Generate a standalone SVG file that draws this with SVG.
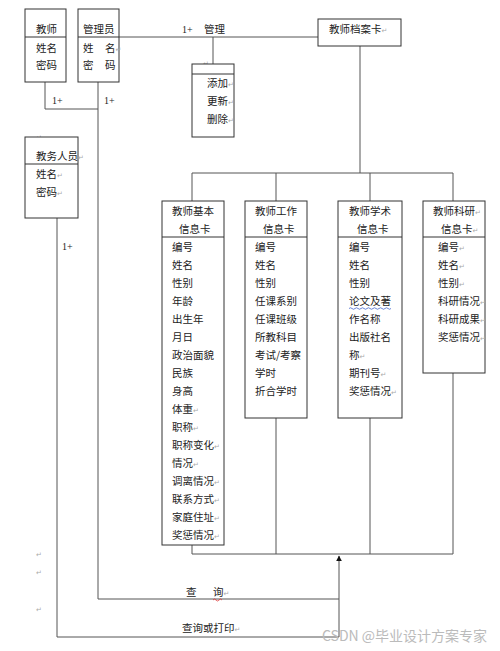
<svg xmlns="http://www.w3.org/2000/svg" width="500" height="651" viewBox="0 0 500 651">
<style>
.box{fill:#fff;stroke:#333;stroke-width:1}
.ln{fill:none;stroke:#555;stroke-width:1}
.t{font-family:"Noto Sans CJK SC","Noto Sans CJK JP",sans-serif;font-size:10.5px;fill:#222}
.n{font-family:"Liberation Serif",serif;font-size:10px;fill:#222}
.p{font-family:"DejaVu Sans",sans-serif;font-size:7px;fill:#aaa}
.w{font-family:"Noto Sans CJK SC",sans-serif;font-size:14px;fill:#bbb}
</style>
<defs>
<marker id="ar" viewBox="0 0 10 10" refX="9" refY="5" markerWidth="6" markerHeight="7" orient="auto" markerUnits="userSpaceOnUse">
<path d="M0,0 L10,5 L0,10 Z" fill="#111"/>
</marker>
</defs>
<g id="connectors">
<polyline class="ln" points="45,82 45,109 98,109"/>
<line class="ln" x1="98" y1="82" x2="98" y2="599"/>
<line class="ln" x1="119" y1="37" x2="318" y2="37"/>
<line class="ln" x1="213" y1="37" x2="213" y2="64"/>
<line class="ln" x1="360" y1="46" x2="360" y2="173"/>
<polyline class="ln" points="192,201 192,173 453,173 453,201"/>
<line class="ln" x1="276" y1="173" x2="276" y2="201"/>
<line class="ln" x1="370" y1="173" x2="370" y2="201"/>
<polyline class="ln" points="192,545 192,554 453,554 453,373"/>
<line class="ln" x1="276" y1="418" x2="276" y2="554"/>
<line class="ln" x1="370" y1="418" x2="370" y2="554"/>
<polyline class="ln" points="57,218 57,637 339,637"/>
<line class="ln" x1="98" y1="599" x2="339" y2="599"/>
<line class="ln" x1="339" y1="637" x2="339" y2="556" marker-end="url(#ar)"/>
<text class="n" x="52" y="104">1+</text>
<text class="n" x="104" y="104">1+</text>
<text class="n" x="182" y="33">1+</text>
<text class="t" x="204" y="33">管理</text>
<text class="n" x="62" y="250">1+</text>
<text class="t" x="186" y="596">查</text>
<text class="t" x="213" y="596">询<tspan class="p">↵</tspan></text>
<path d="M213,600 q1.5,-2 3,0 t3,0 t3,0" fill="none" stroke="#d33" stroke-width="0.8"/>
<text class="t" x="182" y="632">查询或打印<tspan class="p">↵</tspan></text>
</g>
<g id="teacher">
<rect class="box" x="25" y="9" width="41" height="73"/>
<line class="box" x1="25" y1="37" x2="66" y2="37"/>
<text class="t" x="36" y="33">教师</text>
<text class="t" x="36" y="52">姓名</text>
<text class="t" x="36" y="69">密码</text>
</g>
<g id="admin">
<rect class="box" x="78" y="9" width="41" height="73"/>
<line class="box" x1="78" y1="37" x2="119" y2="37"/>
<text class="t" x="83" y="33">管理员</text>
<text class="t" x="83" y="52">姓</text><text class="t" x="105" y="52">名<tspan class="p">↵</tspan></text>
<text class="t" x="83" y="69">密</text><text class="t" x="105" y="69">码</text>
</g>
<g id="ops">
<text class="p" x="203" y="66">↵</text>
<rect class="box" x="192" y="64" width="42" height="73"/>
<line class="box" x1="192" y1="74" x2="234" y2="74"/>
<text class="t" x="207" y="87">添加<tspan class="p">↵</tspan></text>
<text class="t" x="207" y="105">更新<tspan class="p">↵</tspan></text>
<text class="t" x="207" y="123">删除<tspan class="p">↵</tspan></text>
</g>
<g id="archive">
<rect class="box" x="318" y="19" width="83" height="27"/>
<text class="t" x="329" y="33">教师档案卡<tspan class="p">↵</tspan></text>
</g>
<g id="staff">
<text class="p" x="36" y="140">↵</text>
<rect class="box" x="25" y="137" width="53" height="81"/>
<line class="box" x1="25" y1="164" x2="78" y2="164"/>
<text class="t" x="36" y="160">教务人员<tspan class="p">↵</tspan></text>
<text class="t" x="36" y="178">姓名<tspan class="p">↵</tspan></text>
<text class="t" x="36" y="196">密码<tspan class="p">↵</tspan></text>
</g>
<g id="basic">
<rect class="box" x="162" y="201" width="62" height="344"/>
<line class="box" x1="162" y1="237" x2="224" y2="237"/>
<text class="t" x="172" y="215">教师基本</text>
<text class="t" x="179" y="233">信息卡</text>
<text class="t" x="172" y="251">编号</text>
<text class="t" x="172" y="269">姓名</text>
<text class="t" x="172" y="287">性别</text>
<text class="t" x="172" y="305">年龄</text>
<text class="t" x="172" y="323">出生年</text>
<text class="t" x="172" y="341">月日</text>
<text class="t" x="172" y="359">政治面貌</text>
<text class="t" x="172" y="377">民族</text>
<text class="t" x="172" y="395">身高</text>
<text class="t" x="172" y="413">体重<tspan class="p">↵</tspan></text>
<text class="t" x="172" y="431">职称<tspan class="p">↵</tspan></text>
<text class="t" x="172" y="449">职称变化<tspan class="p">↵</tspan></text>
<text class="t" x="172" y="467">情况<tspan class="p">↵</tspan></text>
<text class="t" x="172" y="485">调离情况<tspan class="p">↵</tspan></text>
<text class="t" x="172" y="503">联系方式<tspan class="p">↵</tspan></text>
<text class="t" x="172" y="521">家庭住址<tspan class="p">↵</tspan></text>
<text class="t" x="172" y="539">奖惩情况<tspan class="p">↵</tspan></text>
</g>
<g id="work">
<rect class="box" x="245" y="201" width="62" height="217"/>
<line class="box" x1="245" y1="237" x2="307" y2="237"/>
<text class="t" x="255" y="215">教师工作</text>
<text class="t" x="263" y="233">信息卡</text>
<text class="t" x="255" y="251">编号</text>
<text class="t" x="255" y="269">姓名</text>
<text class="t" x="255" y="287">性别</text>
<text class="t" x="255" y="305">任课系别</text>
<text class="t" x="255" y="323">任课班级</text>
<text class="t" x="255" y="341">所教科目</text>
<text class="t" x="255" y="359">考试/考察</text>
<text class="t" x="255" y="377">学时</text>
<text class="t" x="255" y="395">折合学时</text>
</g>
<g id="academic">
<rect class="box" x="338" y="201" width="64" height="217"/>
<line class="box" x1="338" y1="237" x2="402" y2="237"/>
<text class="t" x="349" y="215">教师学术</text>
<text class="t" x="357" y="233">信息卡</text>
<text class="t" x="349" y="251">编号</text>
<text class="t" x="349" y="269">姓名</text>
<text class="t" x="349" y="287">性别</text>
<text class="t" x="349" y="305">论文及著</text>
<path d="M349,308.5 q1.5,-1.5 3,0 t3,0 t3,0 t3,0 t3,0 t3,0 t3,0 t3,0 t3,0 t3,0 t3,0 t3,0 t3,0 t3,0" fill="none" stroke="#46c" stroke-width="0.8"/>
<text class="t" x="349" y="323">作名称</text>
<text class="t" x="349" y="341">出版社名</text>
<text class="t" x="349" y="359">称<tspan class="p">↵</tspan></text>
<text class="t" x="349" y="377">期刊号<tspan class="p">↵</tspan></text>
<text class="t" x="349" y="395">奖惩情况<tspan class="p">↵</tspan></text>
</g>
<g id="research">
<rect class="box" x="423" y="201" width="62" height="172"/>
<line class="box" x1="423" y1="237" x2="485" y2="237"/>
<text class="t" x="433" y="215">教师科研<tspan class="p">↵</tspan></text>
<text class="t" x="441" y="233">信息卡<tspan class="p">↵</tspan></text>
<text class="t" x="438" y="251">编号<tspan class="p">↵</tspan></text>
<text class="t" x="438" y="269">姓名<tspan class="p">↵</tspan></text>
<text class="t" x="438" y="287">性别<tspan class="p">↵</tspan></text>
<text class="t" x="438" y="305">科研情况<tspan class="p">↵</tspan></text>
<text class="t" x="438" y="323">科研成果<tspan class="p">↵</tspan></text>
<text class="t" x="438" y="341">奖惩情况<tspan class="p">↵</tspan></text>
</g>
<g id="marks">
<text class="p" x="36" y="557">↵</text>
<text class="p" x="36" y="575">↵</text>
<text class="p" x="36" y="612">↵</text>
<text class="w" x="322" y="641">CSDN @毕业设计方案专家</text>
</g>
</svg>
